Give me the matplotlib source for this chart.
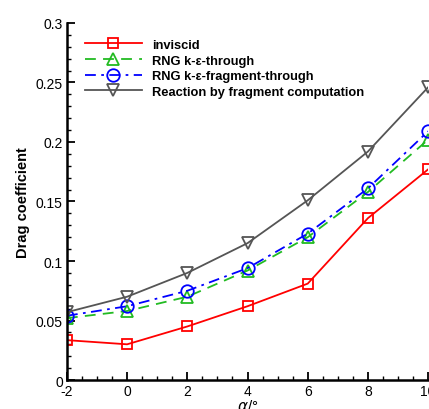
import matplotlib.pyplot as plt
from matplotlib.ticker import MultipleLocator

plt.rcParams['font.family'] = ['Liberation Sans', 'DejaVu Sans']
plt.rcParams['axes.unicode_minus'] = False

alpha = [-2, 0, 2, 4, 6, 8, 10]
inviscid = [0.0335, 0.030, 0.045, 0.062, 0.081, 0.136, 0.177]
rng_through = [0.052, 0.058, 0.070, 0.092, 0.120, 0.158, 0.202]
rng_fragment = [0.054, 0.062, 0.075, 0.094, 0.123, 0.161, 0.209]
reaction = [0.057, 0.070, 0.090, 0.115, 0.151, 0.192, 0.246]

fig = plt.figure(figsize=(4.29, 4.10), dpi=100)
ax = fig.add_axes([0.156, 0.0707, 0.842, 0.8708])

ax.plot(alpha, inviscid, color="red", linewidth=1.3, linestyle="-",
        marker="s", markersize=7, markerfacecolor="none", markeredgewidth=1.3,
        label="inviscid")
ax.plot(alpha, rng_through, color="#22bb22", linewidth=1.3, linestyle=(0, (6, 4)),
        marker="^", markersize=8, markerfacecolor="none", markeredgewidth=1.3,
        label="RNG k-ε-through")
ax.plot(alpha, rng_fragment, color="blue", linewidth=1.3, linestyle=(0, (6, 3, 1.5, 3)),
        marker="o", markersize=9, markerfacecolor="none", markeredgewidth=1.3,
        label="RNG k-ε-fragment-through")
ax.plot(alpha, reaction, color="#555555", linewidth=1.3, linestyle="-",
        marker="v", markersize=8, markerfacecolor="none", markeredgewidth=1.3,
        label="Reaction by fragment computation")

ax.set_xlim(-2, 10)
ax.set_ylim(0, 0.3)
ax.xaxis.set_major_locator(MultipleLocator(2))
ax.xaxis.set_minor_locator(MultipleLocator(0.5))
ax.yaxis.set_minor_locator(MultipleLocator(0.01))
ax.set_yticks([0, 0.05, 0.1, 0.15, 0.2, 0.25, 0.3])
ax.set_yticklabels(["0", "0.05", "0.1", "0.15", "0.2", "0.25", "0.3"])

ax.spines['top'].set_visible(False)
ax.spines['right'].set_visible(False)
ax.spines['left'].set_linewidth(1.8)
ax.spines['bottom'].set_linewidth(1.8)
ax.tick_params(which='major', direction='in', length=6, width=1.3, labelsize=10, pad=3)
ax.tick_params(which='minor', direction='in', length=3, width=1)

ax.set_ylabel("Drag coefficient", fontsize=10.5, fontweight="bold", labelpad=4)
ax.set_xlabel(r"$\alpha$/°", fontsize=11, labelpad=0)

ax.legend(loc="upper left", bbox_to_anchor=(0.035, 0.97), frameon=False,
          prop={'weight': 'bold', 'size': 9.3}, handlelength=4.4,
          handletextpad=0.8, labelspacing=0.28, borderaxespad=0)

fig.savefig("out.png", dpi=100)
